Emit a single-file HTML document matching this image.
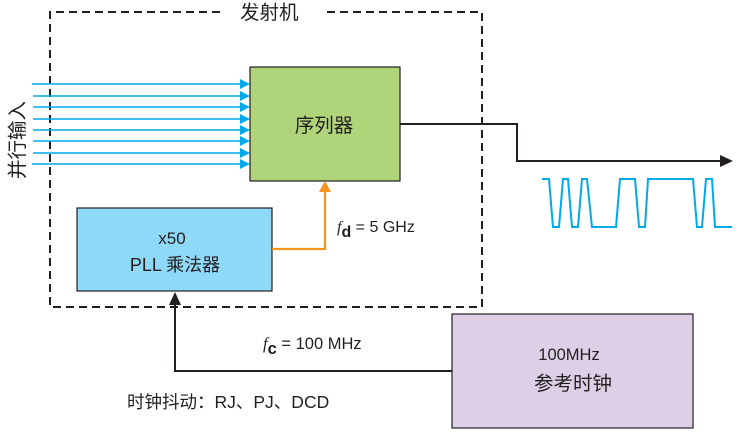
<!DOCTYPE html>
<html><head><meta charset="utf-8"><style>
html,body{margin:0;padding:0;background:#fff;}
svg{display:block;}
text{font-family:"Liberation Sans","Noto Sans CJK SC",sans-serif;fill:#231f20;}
</style></head><body>
<svg width="747" height="434" viewBox="0 0 747 434" xmlns="http://www.w3.org/2000/svg">
<g stroke="#231f20" stroke-width="2" fill="none" stroke-dasharray="8,5">
<polyline points="220,12 50,12 50,307 482,307 482,12 322,12"/>
</g>
<text x="240" y="19" font-size="19.5">发射机</text>
<g stroke="#00a9e8" stroke-width="1.5">
<line x1="32" y1="84" x2="242" y2="84"/>
<line x1="33" y1="96" x2="242" y2="96"/>
<line x1="33" y1="107" x2="242" y2="107"/>
<line x1="33" y1="119" x2="242" y2="119"/>
<line x1="33" y1="130" x2="242" y2="130"/>
<line x1="33" y1="141" x2="242" y2="141"/>
<line x1="33" y1="153" x2="242" y2="153"/>
<line x1="32" y1="164" x2="242" y2="164"/>
</g>
<g fill="#00a9e8">
<polygon points="240,79 250,84 240,89"/>
<polygon points="240,91 250,96 240,101"/>
<polygon points="240,102 250,107 240,112"/>
<polygon points="240,114 250,119 240,124"/>
<polygon points="240,125 250,130 240,135"/>
<polygon points="240,136 250,141 240,146"/>
<polygon points="240,148 250,153 240,158"/>
<polygon points="240,159 250,164 240,169"/>
</g>
<text transform="translate(24,179) rotate(-90)" font-size="19.5">并行输入</text>
<rect x="250" y="67" width="150" height="114" fill="#b0d47a" stroke="#231f20" stroke-width="1.2"/>
<text x="324" y="132" font-size="19.5" text-anchor="middle">序列器</text>
<rect x="77" y="208" width="195" height="83" fill="#8ed8f8" stroke="#231f20" stroke-width="1.2"/>
<text x="172" y="244" font-size="17" text-anchor="middle">x50</text>
<text x="175" y="271" font-size="18" text-anchor="middle">PLL  乘法器</text>
<polyline points="272,249 325,249 325,190" fill="none" stroke="#f7941d" stroke-width="2.2"/>
<polygon points="319,192 325,181 331,192" fill="#f7941d"/>
<text x="337" y="232" font-size="16"><tspan font-style="italic" font-family="Liberation Serif">f</tspan><tspan dy="5" font-weight="bold">d</tspan><tspan dy="-5"> = 5 GHz</tspan></text>
<polyline points="400,124 517,124 517,161 722,161" fill="none" stroke="#231f20" stroke-width="2"/>
<polygon points="720,155 733,161 720,167" fill="#231f20"/>
<polyline points="542,179 549,179 553,227 559,227 563,179 568,179 572,227 578,227 582,179 587,179 592,227 616,227 620,179 635,179 639,227 645,227 648,179 693,179 697,227 702,227 706,179 712,179 715,227 732,227" fill="none" stroke="#00a9e8" stroke-width="2"/>
<rect x="452" y="314" width="241" height="114" fill="#ddd0e6" stroke="#231f20" stroke-width="1.2"/>
<text x="569" y="360" font-size="16.5" text-anchor="middle">100MHz</text>
<text x="573" y="390" font-size="19.5" text-anchor="middle">参考时钟</text>
<polyline points="452,371 175,371 175,304" fill="none" stroke="#231f20" stroke-width="2"/>
<polygon points="169,305 175,292 181,305" fill="#231f20"/>
<text x="263" y="349" font-size="16.5"><tspan font-style="italic" font-family="Liberation Serif">f</tspan><tspan dy="5" font-weight="bold">c</tspan><tspan dy="-5"> = 100 MHz</tspan></text>
<text x="127" y="408" font-size="17.5">时钟抖动：RJ、PJ、DCD</text>
</svg>
</body></html>
